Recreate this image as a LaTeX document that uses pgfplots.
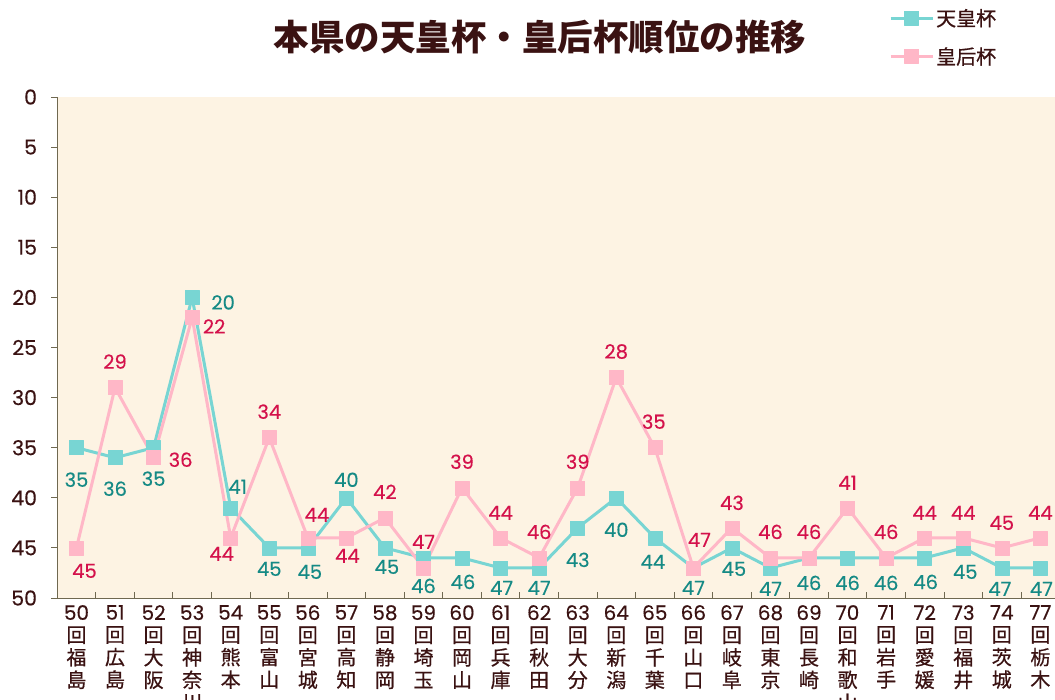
\documentclass[border=0pt]{standalone}
\usepackage{fontspec}
\setmainfont{Noto Sans CJK JP}
\newfontfamily\jpm{Noto Sans CJK JP}[FakeBold=0.6]
\newfontfamily\num{Poppins}[FakeBold=0.3]
\usepackage{pgfplots}
\usepackage{pgfplotstable}
\pgfplotsset{compat=1.18}
\definecolor{tealline}{HTML}{78D5D3}
\definecolor{teallab}{HTML}{158A85}
\definecolor{pinkline}{HTML}{FFB7C7}
\definecolor{pinklab}{HTML}{D4114B}
\definecolor{bgc}{HTML}{FDF3E3}
\definecolor{axc}{HTML}{6F6850}
\definecolor{txt}{HTML}{3A1212}
\newcommand\xl[3]{{\num #1}\\回\\#2\\#3}
\newcommand\xlt[4]{{\num #1}\\回\\#2\\#3\\#4}

\pgfplotstableread{
x y dx dy
0 35 0 -32
1 36 0 -31
2 35 0 -31
3 20 31 -5
4 41 7 21
5 45 0 -21
6 45 2 -24
7 40 0 18
8 45 2 -19
9 46 0 -28
10 46 1 -24
11 47 1 -20
12 47 0 -20
13 43 0 -32
14 40 0 -32
15 44 -2 -24
16 47 0 -20
17 45 2 -21
18 47 0 -21
19 46 0 -25
20 46 0 -25
21 46 0 -25
22 46 1 -24
23 45 2 -24
24 47 -2 -21
25 47 1 -21
}\tenno

\pgfplotstableread{
x y dx dy
0 45 8 -23
1 29 0 26
2 36 27 -2
3 22 22 -9
4 44 -9 -16
5 34 0 26
6 44 9 23
7 44 1 -18
8 42 0 26
9 47 0 26
10 39 0 26
11 44 0 25
12 46 0 26
13 39 0 26
14 28 0 26
15 35 -1 26
16 47 6 28
17 43 0 25
18 46 0 26
19 46 0 26
20 41 0 25
21 46 0 26
22 44 0 25
23 44 0 25
24 45 0 25
25 44 0 25
}\kogo

\begin{document}
\begin{tikzpicture}
\useasboundingbox (0,0) rectangle (1055pt,700pt);
\begin{axis}[
  at={(57.2pt,102pt)}, anchor=south west,
  scale only axis, width=997.8pt, height=501pt,
  xmin=-0.5, xmax=25.38, ymin=0, ymax=50, y dir=reverse,
  axis line style={draw=none},
  axis background/.style={fill=bgc},
  xtick={0,...,25},
  xticklabels={{\xl{50}{福}{島}},{\xl{51}{広}{島}},{\xl{52}{大}{阪}},{\xlt{53}{神}{奈}{川}},{\xl{54}{熊}{本}},{\xl{55}{富}{山}},{\xl{56}{宮}{城}},{\xl{57}{高}{知}},{\xl{58}{静}{岡}},{\xl{59}{埼}{玉}},{\xl{60}{岡}{山}},{\xl{61}{兵}{庫}},{\xl{62}{秋}{田}},{\xl{63}{大}{分}},{\xl{64}{新}{潟}},{\xl{65}{千}{葉}},{\xl{66}{山}{口}},{\xl{67}{岐}{阜}},{\xl{68}{東}{京}},{\xl{69}{長}{崎}},{\xlt{70}{和}{歌}{山}},{\xl{71}{岩}{手}},{\xl{72}{愛}{媛}},{\xl{73}{福}{井}},{\xl{74}{茨}{城}},{\xl{77}{栃}{木}}},
  minor xtick={-0.5,0.5,...,24.5},
  major x tick style={draw=none},
  minor x tick style={draw=axc, line width=0.9pt},
  minor tick length=6pt,
  xtick pos=left,
  ytick={0,5,...,50},
  ytick pos=left,
  major tick length=6pt,
  ytick style={draw=axc, line width=0.9pt, xshift=-6pt},
  tick align=inside,
  /pgf/number format/assume math mode=true,
  yticklabel style={anchor=east, inner sep=0pt, xshift=-20pt, text=txt, font=\num\fontsize{20.5}{24}\selectfont},
  xticklabel style={anchor=north, align=center, inner sep=0pt, yshift=-7pt, text=txt, font=\jpm\fontsize{20}{22.5}\selectfont},
  title={\bfseries 本県の天皇杯・皇后杯順位の推移},
  title style={at={(0.484,1.108)}, anchor=center, text=txt, font=\fontsize{35.5}{40}\selectfont},
  legend style={at={(0.8336,1.18)}, anchor=north west, draw=none, fill=none, inner sep=0pt, row sep=16pt,
    font=\jpm\fontsize{20}{22}\selectfont, text=txt, cells={anchor=west}},
  legend image code/.code={\draw[mark repeat=2, mark phase=2, #1] plot coordinates {(0pt,0pt) (21pt,0pt) (42pt,0pt)};},
  clip=false,
]
\addplot[color=tealline, line width=3pt, line join=round, mark=square*, mark size=7pt,
  mark options={fill=tealline, draw=tealline, line width=0.5pt},
  nodes near coords, nodes near coords align=center,
  visualization depends on={\thisrow{dx} \as \dx},
  visualization depends on={\thisrow{dy} \as \dy},
  every node near coord/.append style={anchor=center, xshift=\dx pt, yshift=\dy pt, text=teallab, inner sep=0pt, font=\num\fontsize{19.5}{22}\selectfont}
] table[x=x, y=y] {\tenno};
\addlegendentry{天皇杯}
\addplot[color=pinkline, line width=3pt, line join=round, mark=square*, mark size=7pt,
  mark options={fill=pinkline, draw=pinkline, line width=0.5pt},
  nodes near coords, nodes near coords align=center,
  visualization depends on={\thisrow{dx} \as \dx},
  visualization depends on={\thisrow{dy} \as \dy},
  every node near coord/.append style={anchor=center, xshift=\dx pt, yshift=\dy pt, text=pinklab, inner sep=0pt, font=\num\fontsize{19.5}{22}\selectfont}
] table[x=x, y=y] {\kogo};
\addlegendentry{皇后杯}
\draw[axc, line width=1pt] (axis cs:-0.5,0) -- (axis cs:-0.5,50) -- (axis cs:25.38,50);
\end{axis}
\end{tikzpicture}
\end{document}
